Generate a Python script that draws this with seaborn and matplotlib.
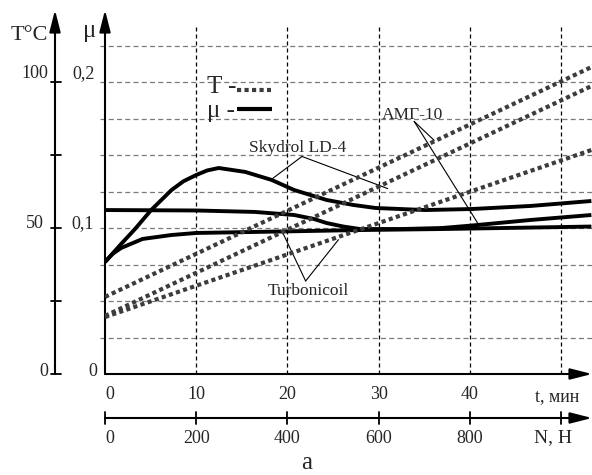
import matplotlib
matplotlib.use("Agg")
import matplotlib.pyplot as plt
import matplotlib.transforms as mtransforms
from matplotlib.lines import Line2D
import pandas as pd
import seaborn as sns

# friction coefficient mu vs time t (min)
t_skydrol = [0, 1.76, 3.29, 5.06, 7.29, 8.6, 10, 11.2, 12.47, 15.38, 18.28, 20.75, 24.3, 27.2, 29.68, 35.11, 40.22, 46.67, 53.33]
mu_skydrol = [0.0767, 0.089, 0.0993, 0.1123, 0.126, 0.132, 0.1363, 0.1394, 0.1411, 0.1384, 0.1329, 0.126, 0.1192, 0.1158, 0.1137, 0.1123, 0.113, 0.1151, 0.1185]

t_amg = [0, 10, 16.45, 20.75, 22.9, 24.3, 26.13, 27.96, 32.61, 36.96, 40.22, 46.67, 53.33]
mu_amg = [0.1123, 0.112, 0.111, 0.1089, 0.1062, 0.1034, 0.101, 0.0993, 0.0993, 0.1, 0.1017, 0.1055, 0.1089]

t_turbo = [0, 0.82, 1.76, 4.12, 7.29, 10, 16.45, 21.83, 27.96, 36.96, 46.67, 53.33]
mu_turbo = [0.0767, 0.0822, 0.0863, 0.0925, 0.0952, 0.0966, 0.0973, 0.0979, 0.0986, 0.0993, 0.1003, 0.101]

# temperature T (C) vs time, straight lines
t_temp = [0, 53.33]
T_amg = [26.4, 105.1]
T_skydrol = [19.9, 98.6]
T_turbo = [19.5, 76.7]

t_ticks = [0, 10, 20, 30, 40, 50]
t_labels = ['0', '10', '20', '30', '40', '']
N_ticks = [0, 200, 400, 600, 800, 1000]
N_labels = ['0', '200', '400', '600', '800', '']
T_ticks = [0, 25, 50, 75, 100]
mu_grid = [0.025, 0.05, 0.075, 0.1, 0.125, 0.15, 0.175, 0.2, 0.225]

W, H = 592, 475
t_max = 53.4
mu_max = (374 - 10) / 1460


def fx(x):
    return x / W


def fy(y):
    return 1 - y / H


sns.set_style("white")
plt.rcParams['font.family'] = ['Liberation Serif', 'DejaVu Serif']

fig = plt.figure(figsize=(5.92, 4.75), dpi=100)
ax = fig.add_axes([fx(105), fy(374), fx(592) - fx(105), fy(10) - fy(374)])
ax.set_xlim(0, t_max)
ax.set_ylim(0, mu_max)
axT = ax.twinx()
axT.set_ylim(0, mu_max * 500)
ax.axis('off')
axT.axis('off')

# grid
ax.hlines(mu_grid, -0.55, t_max, colors='#7a7a7a', linestyles=(0, (4, 2.6)),
          linewidth=0.9, clip_on=False)
ax.vlines(t_ticks[1:], 0, (374 - 25) / 1460, colors='black',
          linestyles=(0, (3.2, 2.4)), linewidth=0.9)

# mu curves
mu_df = pd.concat([
    pd.DataFrame({'t': t_skydrol, 'mu': mu_skydrol, 'oil': 'Skydrol LD-4'}),
    pd.DataFrame({'t': t_amg, 'mu': mu_amg, 'oil': 'AMG-10'}),
    pd.DataFrame({'t': t_turbo, 'mu': mu_turbo, 'oil': 'Turbonicoil'}),
])
for oil, d in mu_df.groupby('oil'):
    sns.lineplot(data=d, x='t', y='mu', ax=ax, color='black', linewidth=2.8,
                 solid_capstyle='butt', solid_joinstyle='round')

# temperature lines
dotted = dict(color='#3c3c3c', linewidth=3.0, linestyle=(0, (1, 0.8)),
              dash_capstyle='butt')
for T in (T_amg, T_skydrol, T_turbo):
    sns.lineplot(x=t_temp, y=T, ax=axT, **dotted)
ax.set_xlabel('')
ax.set_ylabel('')
axT.set_ylabel('')

# axes with arrows
arrow = dict(arrowstyle='-|>,head_length=1.1,head_width=0.28', color='black',
             lw=1.5, shrinkA=0, shrinkB=0, mutation_scale=12)
ax.annotate('', xy=(0, 1), xytext=(0, 0), xycoords='axes fraction',
            arrowprops=arrow, annotation_clip=False)
ax.annotate('', xy=(1, 0), xytext=(0, 0), xycoords='axes fraction',
            arrowprops=arrow, annotation_clip=False)
fig.add_artist(matplotlib.text.Annotation(
    '', xy=(fx(55), fy(10)), xytext=(fx(55), fy(374)),
    xycoords='figure fraction', arrowprops=arrow))

# T axis ticks
bT = mtransforms.blended_transform_factory(fig.transFigure, axT.transData)
for T in T_ticks:
    fig.add_artist(Line2D([fx(51), fx(61)], [T, T], transform=bT,
                          color='black', lw=1.3))

fs = 13
fig.text(fx(48), fy(78), '100', ha='right', va='baseline', fontsize=fs)
fig.text(fx(44), fy(228), '50', ha='right', va='baseline', fontsize=fs)
fig.text(fx(48), fy(376), '0', ha='right', va='baseline', fontsize=fs)
fig.text(fx(95), fy(78), '0,2', ha='right', va='baseline', fontsize=fs)
fig.text(fx(94), fy(228), '0,1', ha='right', va='baseline', fontsize=fs)
fig.text(fx(97), fy(376), '0', ha='right', va='baseline', fontsize=fs)
fig.text(fx(29), fy(40), 'T\u00b0C', ha='center', va='baseline', fontsize=16)
fig.text(fx(90), fy(37), '\u03bc', ha='center', va='baseline', fontsize=18)

# t tick labels
bX = mtransforms.blended_transform_factory(ax.transData, fig.transFigure)
for t, lab in zip(t_ticks, t_labels):
    ax.text(t, fy(399), lab, transform=bX, ha='left' if t == 0 else 'center',
            va='baseline', fontsize=fs)
fig.text(fx(557), fy(401), 't, \u043c\u0438\u043d', ha='center', va='baseline', fontsize=fs)

# N axis
ax.annotate('', xy=(t_max, fy(418)), xytext=(0, fy(418)), xycoords=bX,
            arrowprops=arrow, annotation_clip=False)
for n, lab in zip(N_ticks, N_labels):
    ax.add_line(Line2D([n / 20, n / 20], [fy(412), fy(424)], transform=bX,
                       color='black', lw=1.3, clip_on=False))
    ax.text(n / 20, fy(443), lab, transform=bX, ha='left' if n == 0 else 'center',
            va='baseline', fontsize=fs)
fig.text(fx(553), fy(442), 'N, \u041d', ha='center', va='baseline', fontsize=14)
fig.text(fx(307), fy(469), '\u0430', ha='center', va='baseline', fontsize=18)

# legend
fig.text(fx(207), fy(93), 'T -', ha='left', va='baseline', fontsize=18)
fig.text(fx(207), fy(117), '\u03bc -', ha='left', va='baseline', fontsize=18)
fig.add_artist(Line2D([fx(237), fx(271)], [fy(90), fy(90)],
                      transform=fig.transFigure, **dotted))
fig.add_artist(Line2D([fx(237), fx(272)], [fy(109), fy(109)],
                      transform=fig.transFigure, color='black', lw=3.0,
                      solid_capstyle='butt'))

# labels with leader lines
afs = 12.5
ax.text(21.1, 0.152, 'Skydrol LD-4', ha='center', va='baseline', fontsize=afs)
ax.text(33.7, 0.1747, '\u0410\u041c\u0413-10', ha='center', va='baseline', fontsize=afs)
ax.text(22.3, 0.0541, 'Turbonicoil', ha='center', va='baseline', fontsize=afs)
leaders = [((21.6, 0.149), (18.4, 0.134)), ((21.6, 0.149), (31.0, 0.127)),
           ((33.9, 0.173), (36.1, 0.160)), ((33.9, 0.173), (41.0, 0.102)),
           ((22.0, 0.0637), (19.5, 0.0966)), ((22.0, 0.0637), (25.6, 0.092))]
for (x0, y0), (x1, y1) in leaders:
    ax.plot([x0, x1], [y0, y1], color='black', lw=0.8)

fig.savefig('out.png', dpi=100)
